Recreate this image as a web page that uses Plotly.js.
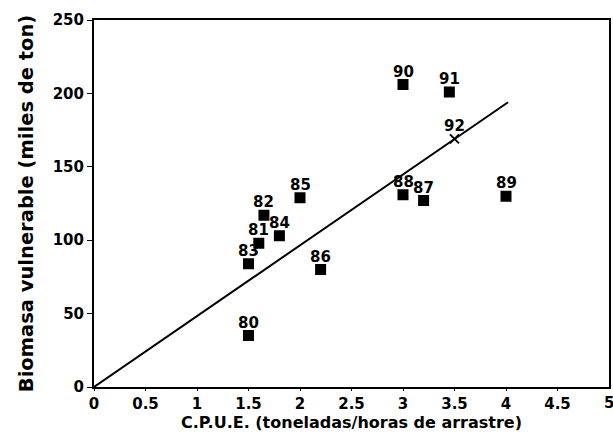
<!DOCTYPE html>
<html>
<head>
<meta charset="utf-8">
<script src="https://cdn.plot.ly/plotly-3.0.1.min.js"></script>
<style>html,body{margin:0;padding:0;background:#fff;}#chart{width:613px;height:434px;}</style>
</head>
<body>
<div id="chart"></div>
<script>
const years = ['80','81','82','83','84','85','86','87','88','89','90','91','92'];
const cpue = [1.5, 1.6, 1.65, 1.5, 1.8, 2.0, 2.2, 3.2, 3.0, 4.0, 3.0, 3.45, 3.5];
const biomasa = [35, 98, 117, 84, 103, 129, 80, 127, 131, 130, 206, 201, 169];
const symbols = ['square','square','square','square','square','square','square','square','square','square','square','square','x-thin-open'];
const fitX = [0, 4.02];
const fitY = [0, 194];
const xTickVals = [0, 0.5, 1, 1.5, 2, 2.5, 3, 3.5, 4, 4.5, 5];
const xTickText = ['0', '0.5', '1', '1.5', '2', '2.5', '3', '3.5', '4', '4.5', '5'];

const F = 'DejaVu Sans, Arial, sans-serif';
const traces = [
  {x: fitX, y: fitY, mode: 'lines', line: {color: '#000', width: 2}, hoverinfo: 'skip'},
  {x: cpue, y: biomasa, mode: 'markers',
   marker: {symbol: symbols, size: 9, color: '#000', line: {color: '#000', width: 2}}}
];
const annotations = years.map((t, i) => ({
  x: cpue[i], y: biomasa[i], text: t, showarrow: false,
  xanchor: 'center', yanchor: 'bottom', yshift: 2,
  font: {family: F, size: 15, color: '#000', weight: 'bold'}
}));
// last x tick label sits at the plot's right edge
annotations.push({
  x: xTickVals[10], y: 0, xref: 'x', yref: 'y', text: xTickText[10], showarrow: false,
  xanchor: 'center', yanchor: 'top', yshift: -5,
  font: {family: F, size: 15, color: '#000', weight: 'bold'}
});
const layout = {
  width: 613, height: 434,
  margin: {l: 94, r: 4, t: 20, b: 47},
  paper_bgcolor: '#fff', plot_bgcolor: '#fff',
  showlegend: false,
  font: {family: F, color: '#000'},
  annotations: annotations,
  xaxis: {
    range: [0, 5], tickvals: xTickVals.slice(0, 10), ticktext: xTickText.slice(0, 10),
    showgrid: false, zeroline: false,
    showline: true, linecolor: '#000', linewidth: 2, mirror: true,
    ticks: 'outside', ticklen: 2, tickcolor: '#000',
    tickfont: {family: F, size: 15, color: '#000', weight: 'bold'},
    title: {text: 'C.P.U.E. (toneladas/horas de arrastre)', standoff: 2,
            font: {family: F, size: 16, color: '#000', weight: 'bold'}}
  },
  yaxis: {
    range: [0, 250], dtick: 50, showgrid: false, zeroline: false,
    showline: true, linecolor: '#000', linewidth: 2, mirror: true,
    ticks: 'outside', ticklen: 5, tickcolor: '#000',
    tickfont: {family: F, size: 15, color: '#000', weight: 'bold'},
    title: {text: 'Biomasa vulnerable (miles de ton)', standoff: 14,
            font: {family: F, size: 19.5, color: '#000', weight: 'bold'}}
  }
};
Plotly.newPlot('chart', traces, layout, {displayModeBar: false, staticPlot: true});
</script>
</body>
</html>
